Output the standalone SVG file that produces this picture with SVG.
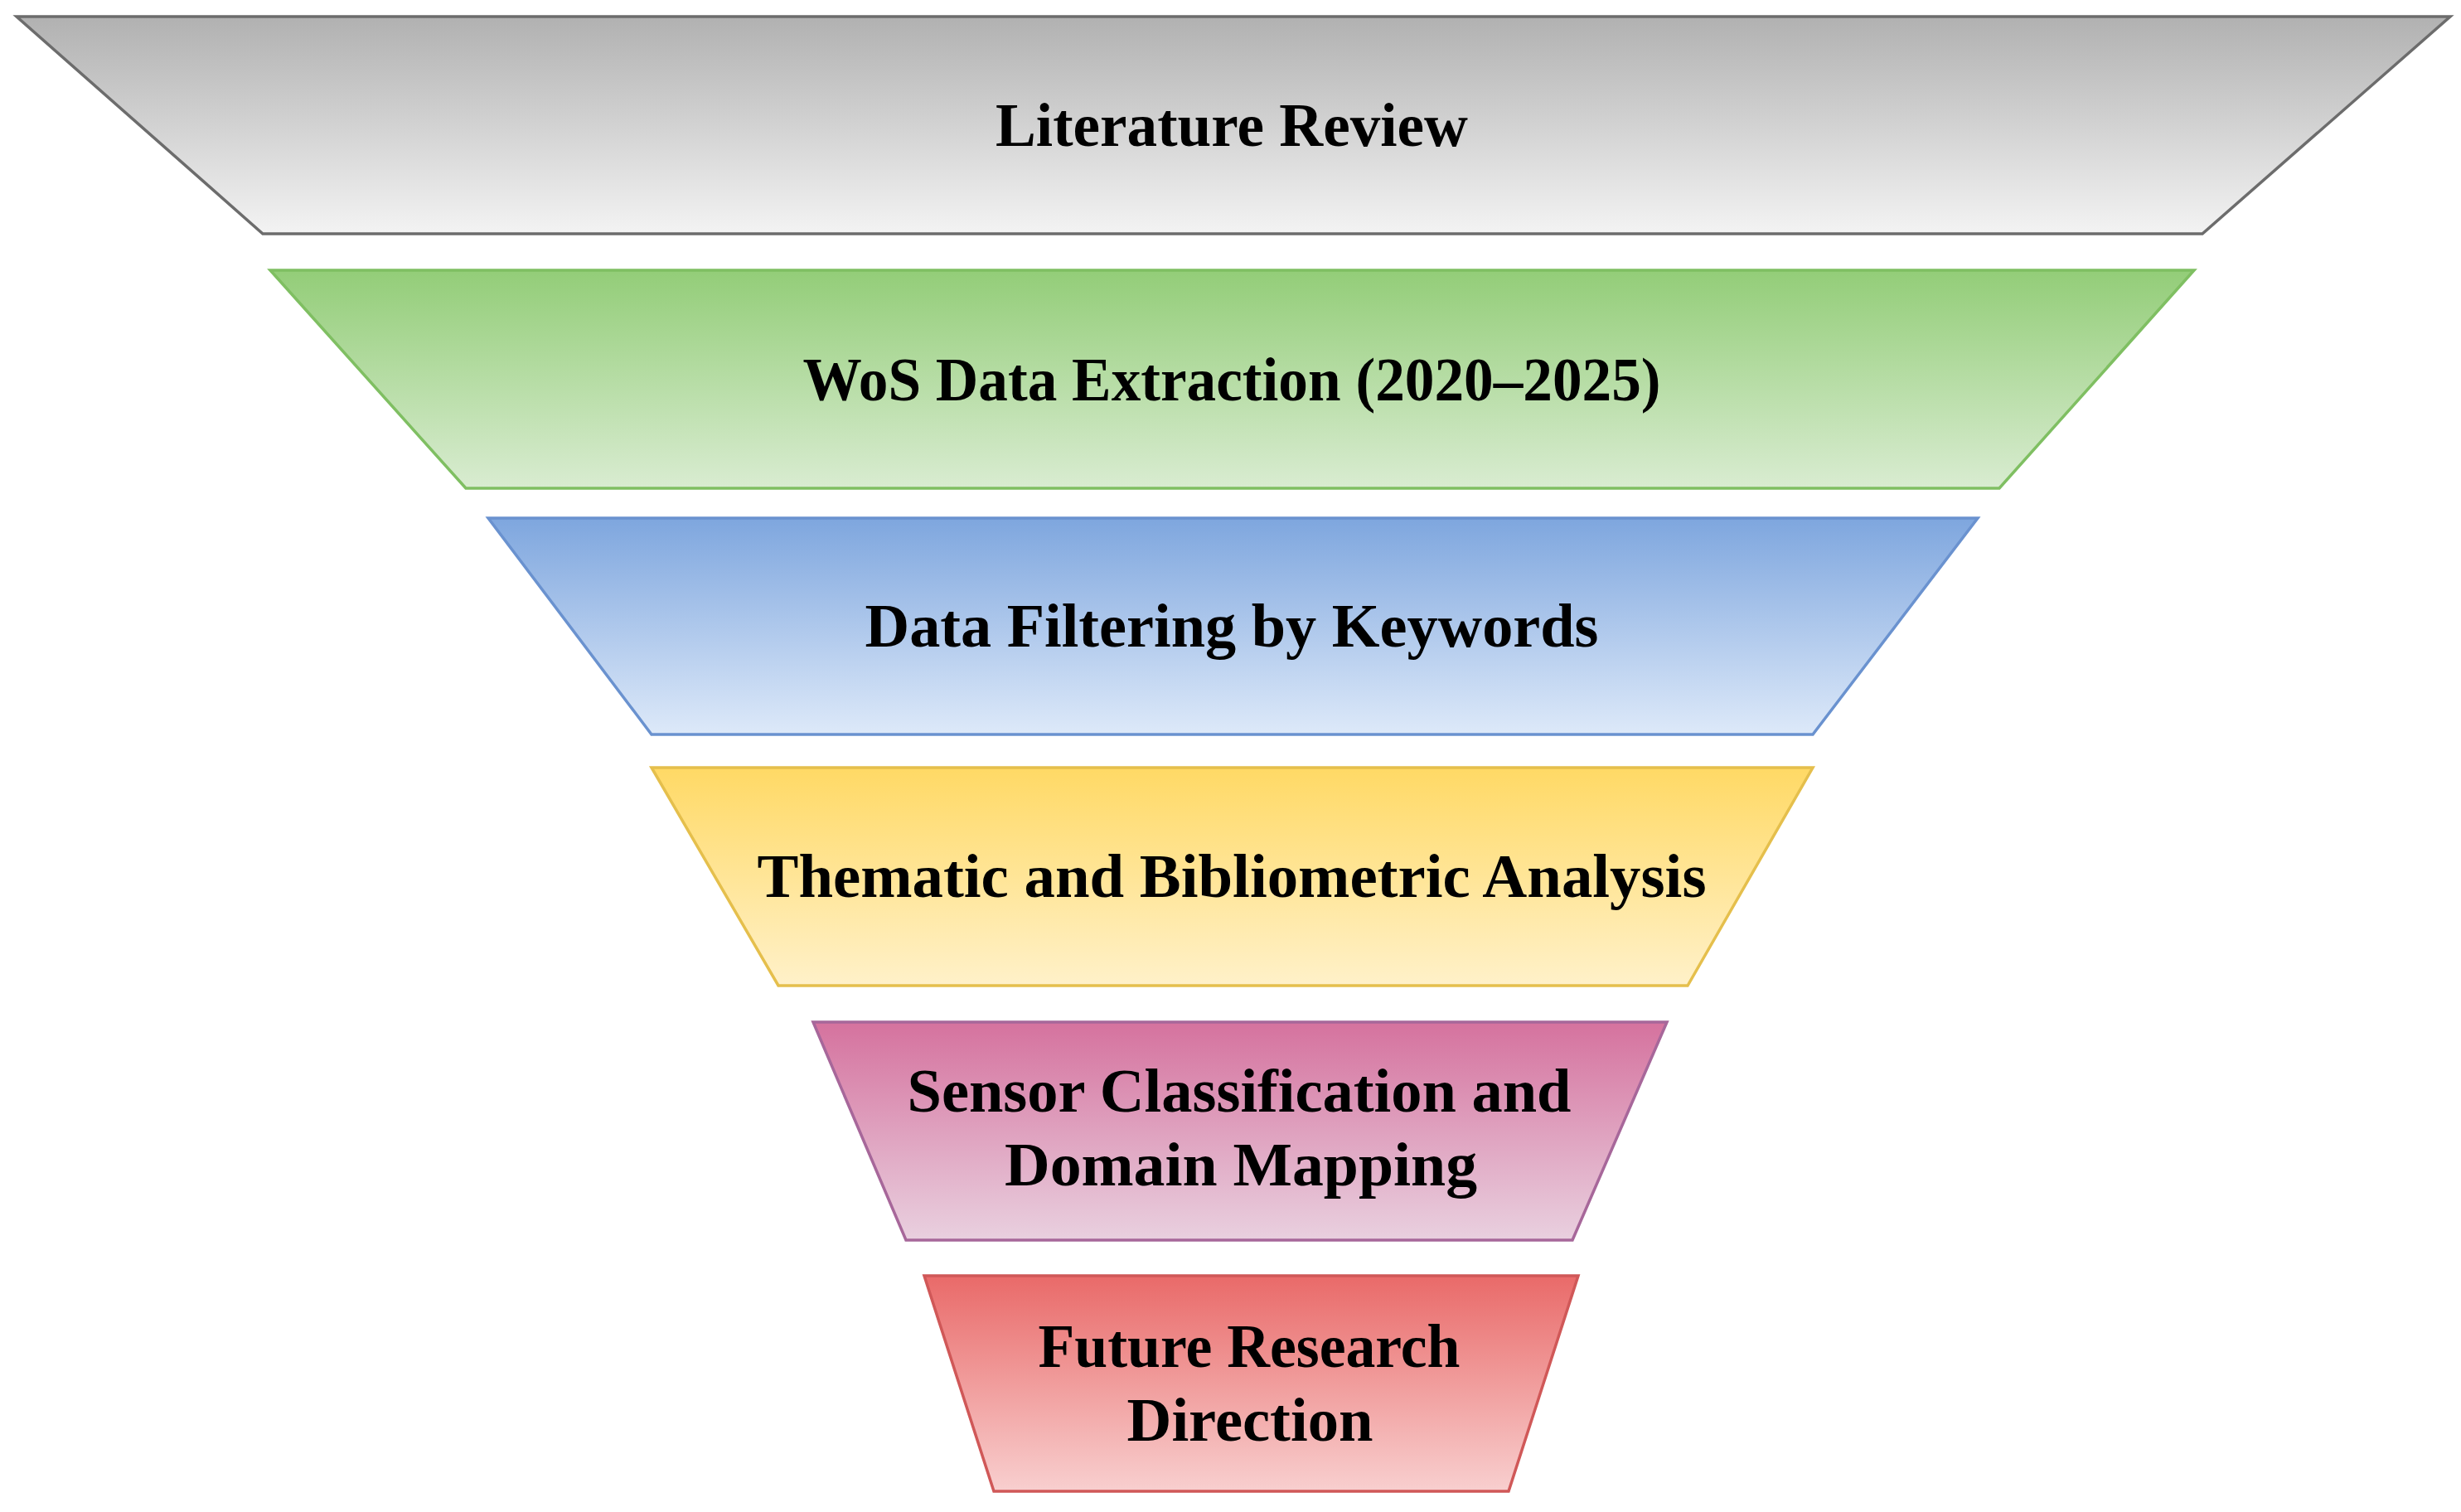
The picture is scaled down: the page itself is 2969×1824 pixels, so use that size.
<svg xmlns="http://www.w3.org/2000/svg" width="2969" height="1824" viewBox="0 0 2969 1824">
<defs>
<linearGradient id="gGray" x1="0" y1="0" x2="0" y2="1"><stop offset="0" stop-color="#b1b1b1"/><stop offset="1" stop-color="#f3f3f3"/></linearGradient>
<linearGradient id="gGreen" x1="0" y1="0" x2="0" y2="1"><stop offset="0" stop-color="#93cd78"/><stop offset="1" stop-color="#d9ecd1"/></linearGradient>
<linearGradient id="gBlue" x1="0" y1="0" x2="0" y2="1"><stop offset="0" stop-color="#7ea6de"/><stop offset="1" stop-color="#dde9f9"/></linearGradient>
<linearGradient id="gYellow" x1="0" y1="0" x2="0" y2="1"><stop offset="0" stop-color="#ffd965"/><stop offset="1" stop-color="#fff1c9"/></linearGradient>
<linearGradient id="gPink" x1="0" y1="0" x2="0" y2="1"><stop offset="0" stop-color="#d5729e"/><stop offset="1" stop-color="#e9d0df"/></linearGradient>
<linearGradient id="gRed" x1="0" y1="0" x2="0" y2="1"><stop offset="0" stop-color="#e96a69"/><stop offset="1" stop-color="#f8cfcf"/></linearGradient>
</defs>
<style>
text{font-family:"Liberation Serif","Times New Roman",serif;font-weight:bold;font-size:74px;fill:#000;text-anchor:middle}
.s{stroke-width:3.5;stroke-linejoin:miter}
</style>
<rect width="2969" height="1824" fill="#ffffff"/>
<g id="connectors"/>
<g id="n1">
<polygon class="s" points="20,20 2956,20 2657,282 317,282" fill="url(#gGray)" stroke="#6c6c6c" stroke-width="5"/>
<text x="1486" y="176" textLength="570" lengthAdjust="spacingAndGlyphs">Literature Review</text>
</g>
<g id="n2">
<polygon class="s" points="326,326 2647,326 2412,589 562,589" fill="url(#gGreen)" stroke="#7fbf62"/>
<text x="1486" y="483" textLength="1035" lengthAdjust="spacingAndGlyphs">WoS Data Extraction (2020–2025)</text>
</g>
<g id="n3">
<polygon class="s" points="589,625 2386,625 2187,886 786,886" fill="url(#gBlue)" stroke="#6a92cf"/>
<text x="1486" y="780" textLength="885" lengthAdjust="spacingAndGlyphs">Data Filtering by Keywords</text>
</g>
<g id="n4">
<polygon class="s" points="786,926 2187,926 2036,1189 939,1189" fill="url(#gYellow)" stroke="#e5bf4c"/>
<text x="1486" y="1082" textLength="1145" lengthAdjust="spacingAndGlyphs">Thematic and Bibliometric Analysis</text>
</g>
<g id="n5">
<polygon class="s" points="981,1233 2011,1233 1897,1496 1093,1496" fill="url(#gPink)" stroke="#a7679a"/>
<text x="1495" y="1341" textLength="801" lengthAdjust="spacingAndGlyphs">Sensor Classification and</text>
<text x="1497" y="1430" textLength="570" lengthAdjust="spacingAndGlyphs">Domain Mapping</text>
</g>
<g id="n6">
<polygon class="s" points="1115,1539 1904,1539 1820,1799 1199,1799" fill="url(#gRed)" stroke="#d05858"/>
<text x="1507" y="1649" textLength="509" lengthAdjust="spacingAndGlyphs">Future Research</text>
<text x="1508" y="1738" textLength="297" lengthAdjust="spacingAndGlyphs">Direction</text>
</g>
</svg>
